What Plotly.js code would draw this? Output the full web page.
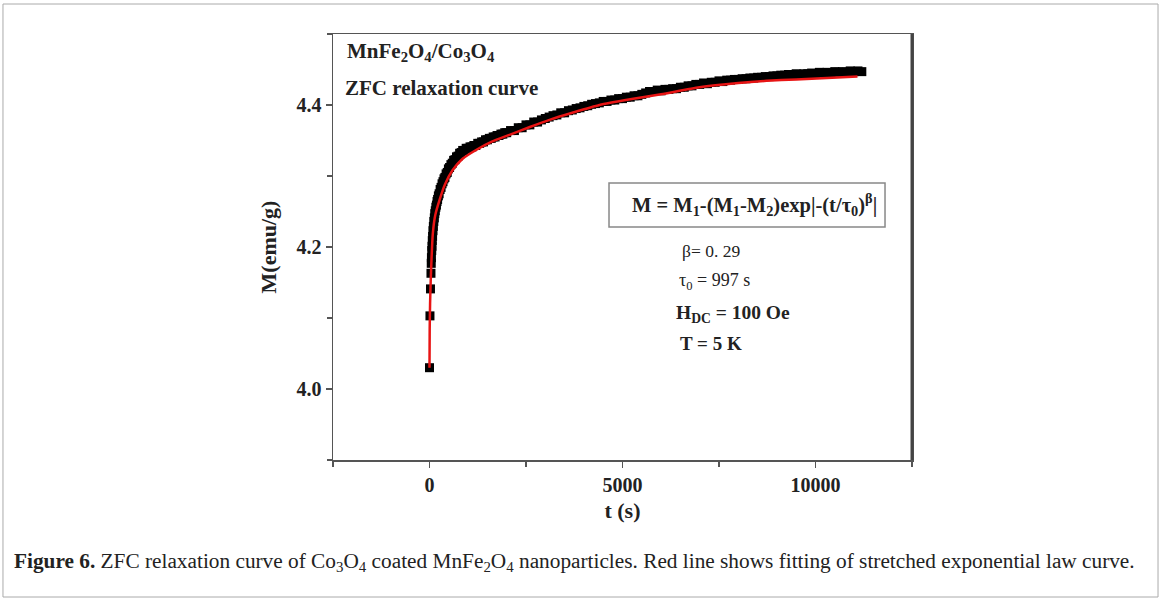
<!DOCTYPE html>
<html>
<head>
<meta charset="utf-8">
<script src="https://cdn.plot.ly/plotly-3.0.1.min.js"></script>
<style>
  html, body { margin: 0; padding: 0; background: #fff; }
  #chart { width: 1161px; height: 600px; }
</style>
</head>
<body>
<div id="chart"></div>
<script>
const dataTime = [0, 12, 25, 38, 45, 50, 58, 65, 72, 80, 90, 100, 112, 125, 137, 150, 165, 180, 195, 210, 230, 250, 275, 300, 325, 350, 375, 400,
  430, 460, 490, 520, 555, 590, 625, 660, 700, 740, 780, 820, 860, 900, 950, 1000, 1050,
  1100, 1150, 1200, 1250, 1300, 1350, 1400, 1450, 1500, 1550, 1600, 1650, 1700, 1750, 1800, 1850, 1900, 1950, 2000,
  2100, 2200, 2300, 2400, 2500, 2600, 2700, 2800, 2900, 3000,
  3100, 3200, 3300, 3400, 3500, 3600, 3700, 3800, 3900, 4000, 4100, 4200, 4300, 4400, 4500, 4600, 4700, 4800, 4900, 5000,
  5100, 5200, 5300, 5400, 5500, 5600, 5700, 5800, 5900, 6000, 6100, 6200, 6300, 6400, 6500, 6600, 6700, 6800, 6900, 7000,
  7100, 7200, 7300, 7400, 7500, 7600, 7700, 7800, 7900, 8000, 8100, 8200, 8300, 8400, 8500, 8600, 8700, 8800, 8900, 9000,
  9100, 9200, 9300, 9400, 9500, 9600, 9700, 9800, 9900, 10000, 10100, 10200, 10300, 10400, 10500, 10600, 10700, 10800, 10900, 11000,
  11100, 11200];
const dataM = [4.030, 4.103, 4.141, 4.163, 4.177, 4.185, 4.195, 4.201, 4.209, 4.215, 4.223, 4.229, 4.236, 4.241, 4.247, 4.251, 4.256, 4.259, 4.264, 4.267, 4.272, 4.275, 4.281, 4.284, 4.289, 4.292, 4.296, 4.298,
  4.303, 4.305, 4.310, 4.312, 4.316, 4.318, 4.322, 4.323, 4.327, 4.328, 4.332, 4.333, 4.336, 4.336, 4.339, 4.339, 4.341,
  4.341, 4.343, 4.343, 4.346, 4.346, 4.348, 4.348, 4.351, 4.351, 4.353, 4.353, 4.355, 4.355, 4.357, 4.357, 4.359, 4.359, 4.361, 4.361,
  4.364, 4.364, 4.368, 4.368, 4.372, 4.372, 4.376, 4.376, 4.379, 4.381,
  4.383, 4.385, 4.386, 4.389, 4.389, 4.392, 4.393, 4.395, 4.396, 4.398, 4.399, 4.401, 4.402, 4.403, 4.405, 4.405, 4.407, 4.407, 4.409, 4.409,
  4.411, 4.411, 4.413, 4.413, 4.415, 4.417, 4.419, 4.419, 4.421, 4.420, 4.422, 4.422, 4.423, 4.423, 4.425, 4.425, 4.427, 4.427, 4.429, 4.429,
  4.431, 4.430, 4.432, 4.432, 4.434, 4.433, 4.435, 4.435, 4.436, 4.436, 4.437, 4.437, 4.438, 4.438, 4.439, 4.439, 4.440, 4.440, 4.441, 4.441,
  4.442, 4.442, 4.443, 4.442, 4.444, 4.443, 4.444, 4.444, 4.445, 4.444, 4.446, 4.445, 4.446, 4.445, 4.447, 4.446, 4.447, 4.446, 4.448, 4.447,
  4.448, 4.447];

// Stretched exponential fit (red line)
const fitTime = [0, 5, 15, 30, 50, 86, 150, 259, 400, 596, 850, 1218, 1600, 2073, 2600, 3109, 3700, 4404, 5200, 6000, 6995, 8000, 8731, 9500, 10300, 11088];
const fitM = [4.030, 4.085, 4.120, 4.150, 4.180, 4.219, 4.245, 4.266, 4.288, 4.308, 4.324, 4.337, 4.348, 4.358, 4.369, 4.379, 4.389, 4.400, 4.408, 4.415, 4.425, 4.431, 4.434, 4.436, 4.438, 4.440];

const xTickVals = [0, 5000, 10000];
const xTickText = ['0', '5000', '10000'];
const yTickVals = [4.0, 4.2, 4.4];
const yTickText = ['4.0', '4.2', '4.4'];

const FONT = 'Liberation Serif, Times New Roman, serif';

const traces = [
  {
    x: dataTime, y: dataM, type: 'scatter', mode: 'markers',
    marker: { symbol: 'square', size: 9, color: '#000' },
    showlegend: false, hoverinfo: 'x+y'
  },
  {
    x: fitTime, y: fitM, type: 'scatter', mode: 'lines',
    line: { color: 'rgb(232,20,20)', width: 2.5, shape: 'spline', smoothing: 0.6 },
    showlegend: false, hoverinfo: 'x+y'
  }
];

const layout = {
  width: 1161, height: 600,
  margin: { l: 333, r: 249, t: 34, b: 140 },
  paper_bgcolor: '#fff', plot_bgcolor: '#fff',
  showlegend: false,
  xaxis: {
    range: [-2500, 12500], showgrid: false, zeroline: false,
    showline: true, linecolor: '#555', linewidth: 1.5, mirror: true,
    ticks: 'outside', ticklen: 6, tickwidth: 1.5, tickcolor: '#555',
    tickvals: xTickVals, ticktext: xTickText,
    tickfont: { family: FONT, size: 20, color: '#222', weight: 'bold' },
    minor: { tickvals: [-2500, 2500, 7500, 12500], ticks: 'outside', ticklen: 5, tickwidth: 1.5, tickcolor: '#555', showgrid: false },
    title: { text: '<b>t (s)</b>', font: { family: FONT, size: 22, color: '#222' }, standoff: 8 },
    automargin: false
  },
  yaxis: {
    range: [3.9, 4.5], showgrid: false, zeroline: false,
    showline: true, linecolor: '#555', linewidth: 1.5, mirror: true,
    ticks: 'outside', ticklen: 6, tickwidth: 1.5, tickcolor: '#555',
    tickvals: yTickVals, ticktext: yTickText,
    tickfont: { family: FONT, size: 20, color: '#222', weight: 'bold' },
    minor: { tickvals: [3.9, 4.1, 4.3, 4.5], ticks: 'outside', ticklen: 5, tickwidth: 1.5, tickcolor: '#555', showgrid: false },
    title: { text: '<b>M(emu/g)</b>', font: { family: FONT, size: 22, color: '#222' }, standoff: 14 },
    automargin: false
  },
  shapes: [
    { type: 'line', xref: 'paper', yref: 'paper', x0: 1, x1: 1, y0: 0, y1: 1, line: { color: '#444', width: 3 } },
    { type: 'rect', xref: 'paper', yref: 'paper', x0: 0.4767, x1: 0.9534, y0: 0.547, y1: 0.650, line: { color: '#888', width: 1.5 } },
    { type: 'rect', xref: 'paper', yref: 'paper', x0: -0.570, x1: 1.4249, y0: -0.3216, y1: 1.0704, line: { color: '#aaa', width: 1 } }
  ],
  annotations: [
    { xref: 'paper', yref: 'paper', x: 0.0207, y: 0.958, xanchor: 'left', yanchor: 'middle', showarrow: false,
      text: '<b>MnFe<sub>2</sub>O<sub>4</sub>/Co<sub>3</sub>O<sub>4</sub></b>', font: { family: FONT, size: 21, color: '#222' } },
    { xref: 'paper', yref: 'paper', x: 0.0175, y: 0.873, xanchor: 'left', yanchor: 'middle', showarrow: false,
      text: '<b>ZFC relaxation curve</b>', font: { family: FONT, size: 21, color: '#222' } },
    { xref: 'paper', yref: 'paper', x: 0.728, y: 0.599, xanchor: 'center', yanchor: 'middle', showarrow: false,
      text: '<b>M = M<sub>1</sub>-(M<sub>1</sub>-M<sub>2</sub>)exp|-(t/τ<sub>0</sub>)<sup>β</sup>|</b>', font: { family: FONT, size: 20.5, color: '#222' } },
    { xref: 'paper', yref: 'paper', x: 0.599, y: 0.4906, xanchor: 'left', yanchor: 'middle', showarrow: false,
      text: 'β= 0. 29', font: { family: FONT, size: 17.5, color: '#222' } },
    { xref: 'paper', yref: 'paper', x: 0.594, y: 0.420, xanchor: 'left', yanchor: 'middle', showarrow: false,
      text: 'τ<sub>0</sub> = 997 s', font: { family: FONT, size: 18, color: '#222' } },
    { xref: 'paper', yref: 'paper', x: 0.589, y: 0.343, xanchor: 'left', yanchor: 'middle', showarrow: false,
      text: '<b>H<sub>DC</sub> = 100 Oe</b>', font: { family: FONT, size: 19.5, color: '#222' } },
    { xref: 'paper', yref: 'paper', x: 0.595, y: 0.2746, xanchor: 'left', yanchor: 'middle', showarrow: false,
      text: '<b>T = 5 K</b>', font: { family: FONT, size: 19, color: '#222' } },
    { xref: 'paper', yref: 'paper', x: -0.5544, y: -0.2394, xanchor: 'left', yanchor: 'middle', showarrow: false,
      text: '<b>Figure 6.</b> ZFC relaxation curve of Co<sub>3</sub>O<sub>4</sub> coated MnFe<sub>2</sub>O<sub>4</sub> nanoparticles. Red line shows fitting of stretched exponential law curve.',
      font: { family: FONT, size: 21.3, color: '#222' } }
  ]
};

Plotly.newPlot('chart', traces, layout, { staticPlot: true, displayModeBar: false });
</script>
</body>
</html>
